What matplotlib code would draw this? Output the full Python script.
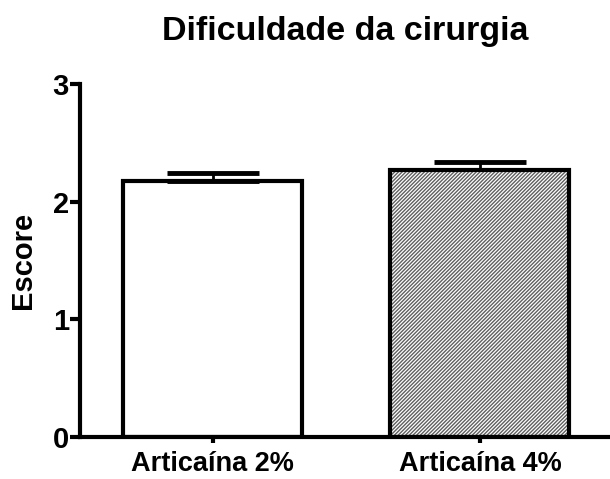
import matplotlib.pyplot as plt

groups = ["Articaína 2%", "Articaína 4%"]
means = [2.175, 2.27]
errs = [0.065, 0.065]

plt.rcParams["font.family"] = ["Liberation Sans", "DejaVu Sans"]
plt.rcParams["font.weight"] = "bold"
plt.rcParams["hatch.linewidth"] = 1.0

fig = plt.figure(figsize=(6.1, 4.79), dpi=100)
ax = fig.add_axes([0.131, 0.0877, 0.869, 0.737])

x = [0, 1]
# hatched fill for the second group, drawn underneath the outlines
ax.bar(x[1:], means[1:], width=0.67, color="white", edgecolor="#606060",
       hatch="/////////", linewidth=0, zorder=2)
ax.bar(x, means, width=0.67, fill=False, edgecolor="black", linewidth=3, zorder=3)
ax.errorbar(x, means, yerr=[[0, 0], errs], fmt="none", ecolor="black",
            elinewidth=2, capsize=33, capthick=3.5, zorder=1)

ax.set_xlim(-0.498, 1.487)
ax.set_ylim(0, 3)
ax.set_yticks([0, 1, 2, 3])
ax.set_xticks(x)
ax.set_xticklabels(groups, fontsize=19.5, fontweight="bold")
ax.tick_params(axis="y", labelsize=21, width=3, length=7, pad=1)
ax.tick_params(axis="x", length=4, width=3, pad=6)
for lab in ax.get_yticklabels():
    lab.set_fontweight("bold")
ax.spines["top"].set_visible(False)
ax.spines["right"].set_visible(False)
ax.spines["left"].set_linewidth(3)
ax.spines["bottom"].set_linewidth(3)
ax.set_ylabel("Escore", fontsize=21, fontweight="bold", labelpad=11)
ax.set_title("Dificuldade da cirurgia", fontsize=24.5, fontweight="bold", pad=32)

fig.savefig("out.png", dpi=100)
